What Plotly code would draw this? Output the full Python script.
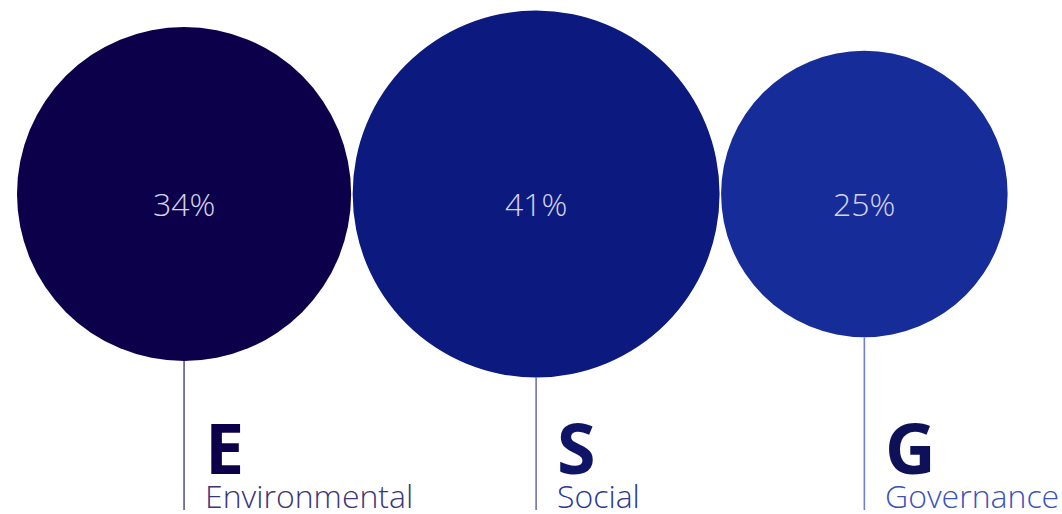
import math
import plotly.graph_objects as go

# ---- data ----
letters = ["E", "S", "G"]
names = ["Environmental", "Social", "Governance"]
shares = [34, 41, 25]  # percent

# ---- styles ----
circle_colors = ["#0c004a", "#0c1a7f", "#162c99"]
letter_colors = ["#0c004a", "#0f1466", "#0e1157"]
name_colors = ["#3b3679", "#2a3897", "#3a52bd"]
line_colors = ["#5c5a8e", "#6c74b0", "#6f80d0"]

W, H = 1062, 514
AREA_K = 821.0      # px^2 per percent
CY = 194.0
GAP = 1.5
LEFT = 17.0
BOTTOM = 510.0

radii = [math.sqrt(v * AREA_K) for v in shares]
centers = []
x = LEFT
for r in radii:
    centers.append(x + r)
    x += 2 * r + GAP

fig = go.Figure()
shapes = []
annotations = []
for i, (r, cx) in enumerate(zip(radii, centers)):
    shapes.append(dict(type="circle", xref="x", yref="y",
                       x0=cx - r, x1=cx + r, y0=CY - r, y1=CY + r,
                       fillcolor=circle_colors[i], line=dict(width=0), layer="below"))
    shapes.append(dict(type="line", xref="x", yref="y",
                       x0=cx, x1=cx, y0=CY + r, y1=BOTTOM,
                       line=dict(color=line_colors[i], width=1.6)))
    annotations.append(dict(x=cx, y=CY + 9, xref="x", yref="y", text=f"{shares[i]}%",
                            showarrow=False, xanchor="center", yanchor="middle",
                            font=dict(family="Open Sans", size=32, weight=300, color="#d4d4ec")))
    annotations.append(dict(x=cx + 19, y=447, xref="x", yref="y",
                            text=f"<b>{letters[i]}</b>",
                            showarrow=False, xanchor="left", yanchor="middle",
                            font=dict(family="Open Sans", size=70, color=letter_colors[i])))
    annotations.append(dict(x=cx + 19, y=495, xref="x", yref="y", text=names[i],
                            showarrow=False, xanchor="left", yanchor="middle",
                            font=dict(family="Open Sans", size=32, weight=300, color=name_colors[i])))

fig.add_trace(go.Scatter(x=centers, y=[CY] * 3, mode="markers",
                         marker=dict(size=1, opacity=0), hoverinfo="skip", showlegend=False))

fig.update_layout(width=W, height=H, margin=dict(l=0, r=0, t=0, b=0),
                  paper_bgcolor="white", plot_bgcolor="white",
                  shapes=shapes, annotations=annotations, showlegend=False,
                  xaxis=dict(range=[0, W], visible=False, fixedrange=True),
                  yaxis=dict(range=[H, 0], visible=False, fixedrange=True))

fig.write_html("out.html")
